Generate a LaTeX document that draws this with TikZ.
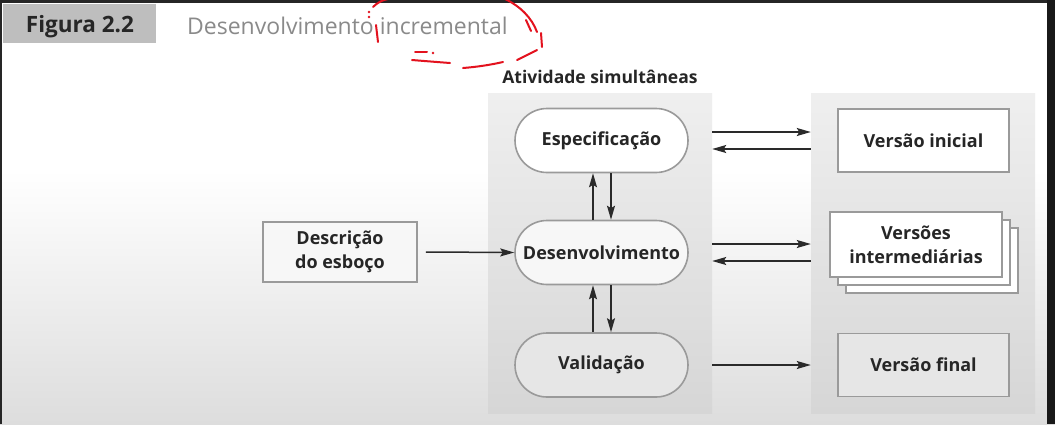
\documentclass[tikz,border=0pt]{standalone}
\usepackage{fontspec}
\setmainfont{Open Sans}
\usetikzlibrary{arrows.meta,shadows,calc}
\definecolor{arrowc}{HTML}{2A2A2A}
\definecolor{edgec}{HTML}{9A9A9A}
\definecolor{titlec}{HTML}{8A8A8A}
\definecolor{figboxc}{HTML}{BEBEBE}
\definecolor{pantop}{HTML}{EFEFEF}
\definecolor{panbot}{HTML}{D6D6D6}
\definecolor{bgbot}{HTML}{DDDDDD}
\definecolor{redmark}{HTML}{E3121E}
\definecolor{txt}{HTML}{262626}
\definecolor{fillmid}{HTML}{F7F7F7}
\definecolor{fillbot}{HTML}{E6E6E6}
\begin{document}
\begin{tikzpicture}[x=1pt,y=-1pt,
  every node/.style={text=txt},
  nodefont/.style={font=\bfseries\fontsize{18}{24}\selectfont},
  stadium/.style={draw=edgec, line width=1.6pt, rounded corners=32pt, minimum width=173pt, minimum height=64pt, inner sep=0pt, nodefont},
  vbox/.style={draw=edgec, line width=1.8pt, fill=white, minimum width=171pt, minimum height=63pt, inner sep=0pt, nodefont, align=center},
  panel/.style={inner sep=0pt, top color=pantop, bottom color=panbot, minimum width=224pt, minimum height=320pt},
  arr/.style={draw=arrowc, line width=1.5pt, -{Stealth[length=14pt,width=8pt,inset=2.5pt]}},
  redpen/.style={draw=redmark, line width=2pt, line cap=round}
]
\useasboundingbox (0,0) rectangle (1055,424);
\fill[white] (0,0) rectangle (1055,170);
\shade[top color=white,bottom color=bgbot] (0,170) rectangle (1055,424);
% screen borders
\fill[black!85] (0,0) rectangle (1055,3);
\fill[black!85] (0,0) rectangle (2,424);
\fill[black!90] (1047,0) rectangle (1055,424);

% header
\node[fill=figboxc, minimum width=153pt, minimum height=39pt, inner sep=0pt, anchor=north west] (figbox) at (3,4) {};
\node[anchor=base, inner sep=0pt, font=\bfseries\fontsize{22.5}{26}\selectfont] (figlabel) at (80,32) {Figura 2.2};
\node[anchor=base west, inner sep=0pt, text=titlec, font=\fontsize{23}{28}\selectfont] (title) at (187,34) {Desenvolvimento incremental};

\node[anchor=base, inner sep=0pt, font=\bfseries\fontsize{17.5}{20}\selectfont] (ativ) at (600,83) {Atividade simultâneas};

% panels
\node[panel] (lp) at (600,253) {};
\node[panel] (rp) at (923,253) {};

% activities
\node[stadium, fill=white] (esp) at (601.5,140.5) {Especificação};
\node[stadium, fill=fillmid] (des) at (601.5,252.5) {Desenvolvimento};
\node[stadium, fill=fillbot] (val) at (601.5,365) {Validação};

% versions
\node[vbox] (vi) at (923.5,140.5) {Versão inicial};
\node[vbox, minimum width=172pt, minimum height=65pt, double copy shadow={shadow xshift=8pt, shadow yshift=-8pt}] (vint) at (916,244.5) {Versões\\intermediárias};
\node[vbox, fill=fillbot] (vf) at (923.5,365) {Versão final};
\node[vbox, fill=fillmid, minimum width=154pt, minimum height=60pt] (desc) at (340,252) {Descrição\\do esboço};

% horizontal arrows
\draw[arr] ($(lp.east|-esp)+(0,-8.5)$) -- ($(rp.west|-esp)+(0,-8.5)$);
\draw[arr] ($(rp.west|-esp)+(0,8.5)$) -- ($(lp.east|-esp)+(0,8.5)$);
\draw[arr] ($(lp.east|-des)+(0,-8.5)$) -- ($(rp.west|-des)+(0,-8.5)$);
\draw[arr] ($(rp.west|-des)+(0,8.5)$) -- ($(lp.east|-des)+(0,8.5)$);
\draw[arr] (lp.east|-val) -- (rp.west|-val);

% vertical arrows
\draw[arr] ($(des.north)+(-8.5,0)$) -- ($(esp.south)+(-8.5,0)$);
\draw[arr] ($(esp.south)+(9.5,0)$) -- ($(des.north)+(9.5,0)$);
\draw[arr] ($(val.north)+(-8.5,0)$) -- ($(des.south)+(-8.5,0)$);
\draw[arr] ($(des.south)+(9.5,0)$) -- ($(val.north)+(9.5,0)$);

% input arrow
\draw[arr] ($(desc.east)+(8,0)$) -- (des.west);

% red hand annotation
\draw[redpen] (373,7) .. controls (377,3) and (382,0) .. (388,-1);
\fill[redmark] (369,12) circle (1.3);
\fill[redmark] (369,17) circle (1.3);
\draw[redpen] (376,25) -- (378,42);
\draw[redpen] (505,-1) .. controls (520,6) and (532,18) .. (537,32);
\draw[redpen] (526,20) -- (531,31);
\draw[redpen] (541,33) -- (542,47);
\draw[redpen] (537,50) -- (517,60);
\draw[redpen] (503,62) .. controls (490,65) and (476,67) .. (463,68);
\draw[redpen] (450,63) .. controls (437,62) and (424,61) .. (412,60);
\draw[redpen] (415,52) -- (427,52);
\fill[redmark] (433,53) circle (1.3);
\end{tikzpicture}
\end{document}
